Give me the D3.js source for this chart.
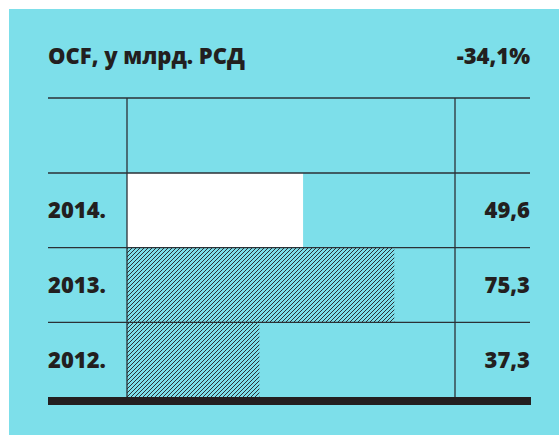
<!DOCTYPE html>
<html>
<head>
<meta charset="utf-8">
<script src="https://cdn.jsdelivr.net/npm/d3@7"></script>
<style>
  html, body { margin: 0; padding: 0; background: #ffffff; }
  svg { display: block; }
  text { font-family: "Open Sans", "Lato", sans-serif; font-weight: 800; fill: #231f20; }
</style>
</head>
<body>
<svg id="chart" width="559" height="435"></svg>
<script>
// OCF by year, billions of RSD
const years = ["2014.", "2013.", "2012."];
const values = [49.6, 75.3, 37.3];
const valueLabels = ["49,6", "75,3", "37,3"];
const title = "OCF, у млрд. РСД";
const change = "-34,1%";

const svg = d3.select("#chart");
const ink = "#231f20";
const panel = "#7ddfea";

// panel background
svg.append("rect").attr("x", 9).attr("y", 9).attr("width", 550).attr("height", 426).attr("fill", panel);

// hatch pattern for earlier years
const defs = svg.append("defs");
const pat = defs.append("pattern")
  .attr("id", "hatch").attr("patternUnits", "userSpaceOnUse")
  .attr("width", 4).attr("height", 4);
pat.append("path")
  .attr("d", "M-1,1 l2,-2 M0,4 l4,-4 M3,5 l2,-2")
  .attr("stroke", "#2b3136").attr("stroke-width", 1);

const left = 48, right = 530;
const plotL = 127, plotR = 455;
const headerTop = 98, rowsTop = 173, rowsBottom = 397;

const y = d3.scaleBand().domain(years).range([rowsTop, rowsBottom]).padding(0);
const x = d3.scaleLinear().domain([0, 92.4]).range([plotL, plotR]);

// bars
svg.selectAll("rect.bar").data(years).join("rect")
  .attr("class", "bar")
  .attr("x", x(0))
  .attr("y", d => y(d))
  .attr("width", (d, i) => x(values[i]) - x(0))
  .attr("height", y.bandwidth())
  .attr("fill", (d, i) => i === 0 ? "#ffffff" : "url(#hatch)");

// horizontal rules
svg.selectAll("line.rule").data([headerTop, y(years[0]), y(years[1]), y(years[2])]).join("line")
  .attr("class", "rule")
  .attr("x1", left).attr("x2", right)
  .attr("y1", d => d).attr("y2", d => d)
  .attr("stroke", "#2b3136").attr("stroke-width", 1.3);

// vertical rules
svg.selectAll("line.vrule").data([plotL, plotR]).join("line")
  .attr("class", "vrule")
  .attr("x1", d => d).attr("x2", d => d)
  .attr("y1", headerTop).attr("y2", rowsBottom)
  .attr("stroke", "#2b3136").attr("stroke-width", 1.3);

// baseline bar
svg.append("rect").attr("x", left).attr("y", rowsBottom).attr("width", right - left + 1).attr("height", 8).attr("fill", ink);

// header texts
svg.append("text").attr("x", left).attr("y", 64).attr("font-size", 22).text(title);
svg.append("text").attr("x", right).attr("y", 64).attr("font-size", 22).attr("text-anchor", "end").text(change);

// row labels
svg.selectAll("text.year").data(years).join("text")
  .attr("class", "year")
  .attr("x", left).attr("y", d => y(d) + y.bandwidth() / 2 + 8)
  .attr("font-size", 22).text(d => d);

svg.selectAll("text.val").data(years).join("text")
  .attr("class", "val")
  .attr("x", right).attr("y", d => y(d) + y.bandwidth() / 2 + 8)
  .attr("font-size", 22).attr("text-anchor", "end")
  .text((d, i) => valueLabels[i]);
</script>
</body>
</html>
